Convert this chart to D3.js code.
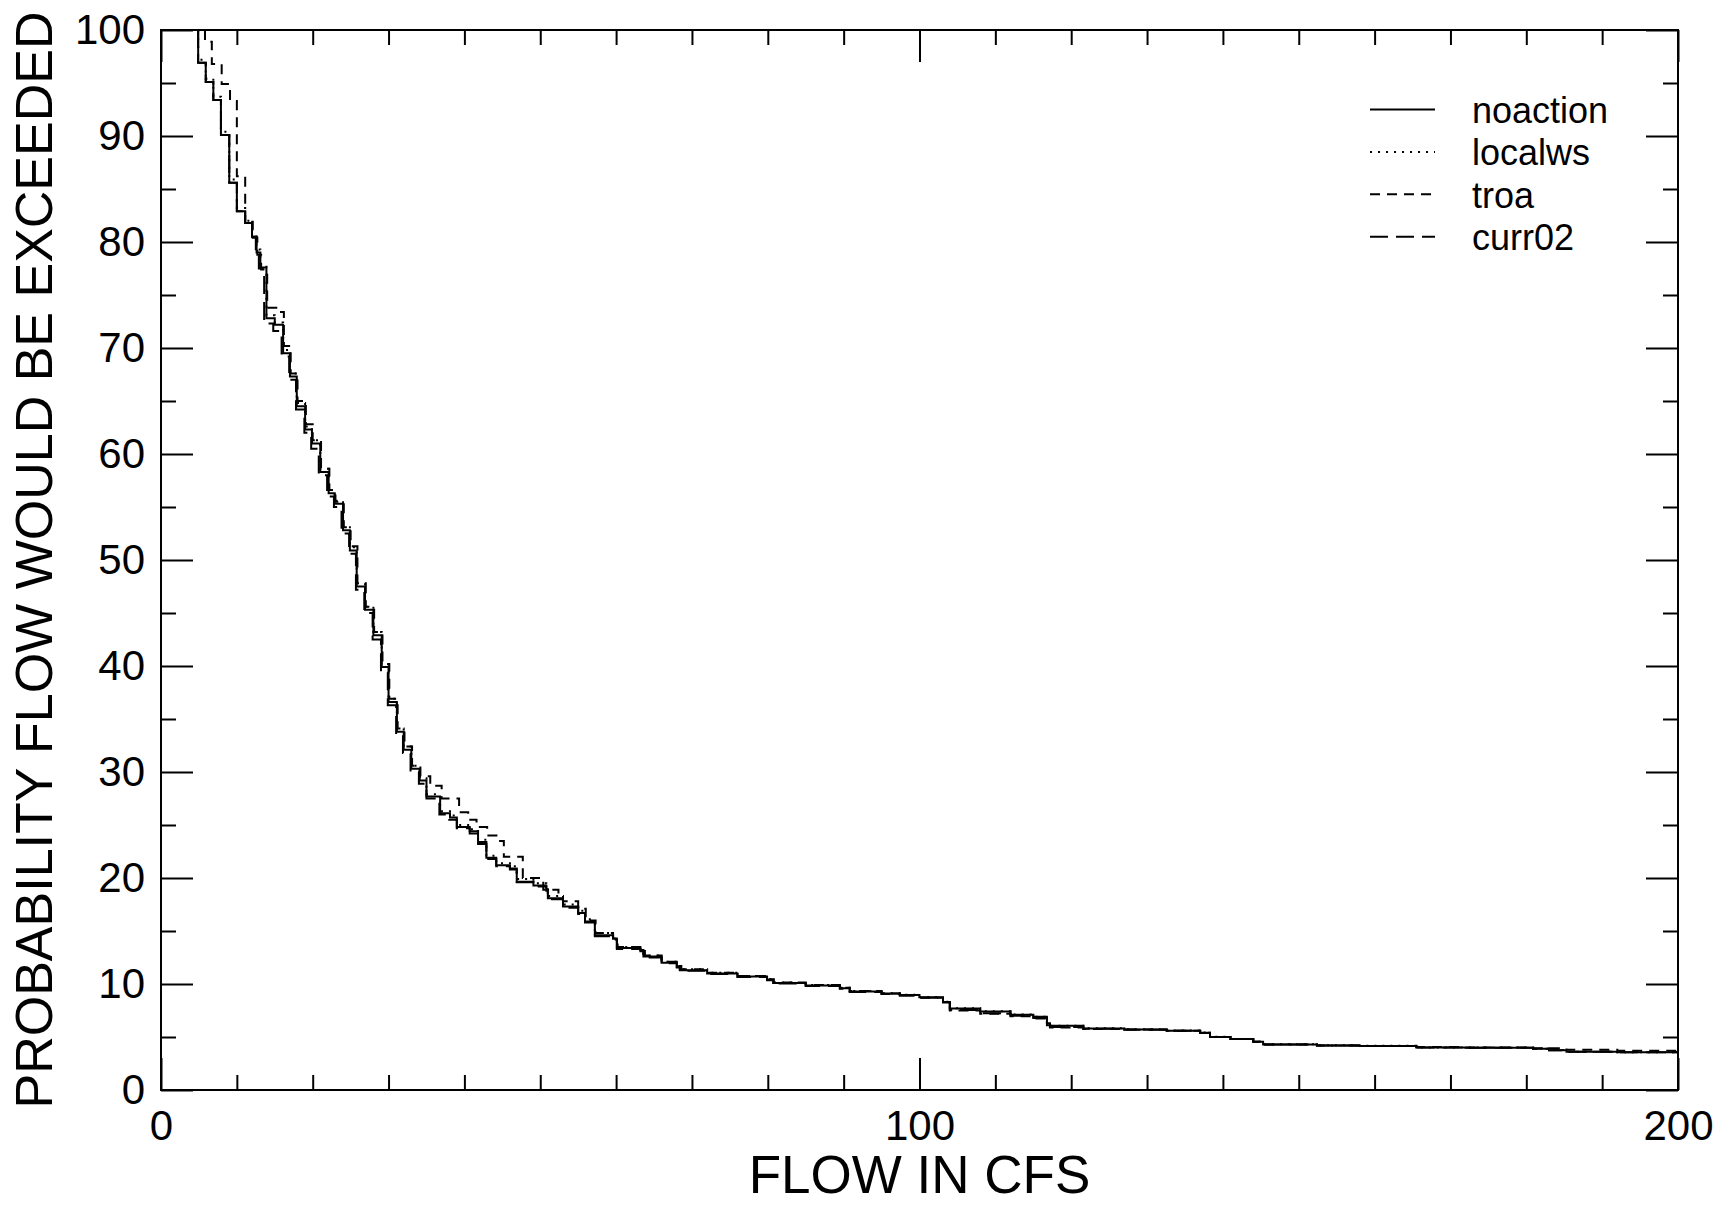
<!DOCTYPE html>
<html>
<head>
<meta charset="utf-8">
<script src="https://cdn.jsdelivr.net/npm/d3@7"></script>
<style>
  html, body { margin: 0; padding: 0; background: #fff; }
  svg { display: block; font-family: "Liberation Sans", Arial, Helvetica, sans-serif; }
</style>
</head>
<body>
<svg id="chart" width="1734" height="1206"></svg>
<script>
// ---------------- DATA ----------------
const seriesNames = ["noaction", "localws", "troa", "curr02"];
const xTitle = "FLOW IN CFS";
const yTitle = "PROBABILITY FLOW WOULD BE EXCEEDED";
const xMajorTicks = [0, 100, 200];
const yMajorTicks = [0, 10, 20, 30, 40, 50, 60, 70, 80, 90, 100];

// [flow (cfs), exceedance probability (%)]
const noaction = [
  [4.9,100],[4.9,96.9],[5.9,95.1],[6.9,93.4],[7.9,90.1],[9.0,85.6],[10.0,82.9],[11.1,81.8],
  [12.0,80.5],[12.6,79.0],[13.1,77.6],[13.9,72.8],[15.0,72.2],[16.1,69.5],[17.0,67.3],[17.9,64.5],
  [19.0,62.3],[19.9,61.0],[21.0,58.3],[22.1,56.3],[22.9,55.3],[24.0,52.8],[24.9,50.9],[25.8,47.5],
  [26.9,45.3],[28.0,42.9],[29.1,39.9],[30.0,36.6],[31.1,33.8],[32.0,32.1],[33.0,30.3],[34.1,29.2],
  [35.0,27.7],[36.8,26.1],[38.1,25.7],[39.0,24.8],[40.7,24.4],[41.8,23.4],[42.9,21.9],[44.2,21.2],
  [46.0,20.9],[46.9,19.65],[49.1,19.3],[50.8,18.9],[51.0,18.1],[53.0,17.3],[55.0,16.7],[55.9,15.9],
  [57.2,14.6],[59.6,14.3],[60.1,13.4],[63.2,13.2],[63.6,12.6],[66.0,12.0],[68.0,11.6],[68.4,11.3],
  [72,11.0],[76,10.7],[79.9,10.4],[80.7,10.1],[85,9.85],[89.5,9.6],[90.8,9.3],[95,9.1],[97.4,8.96],
  [100,8.75],[103.1,8.3],[104.0,7.7],[108.0,7.4],[112,7.1],[115.0,6.9],[116.8,6.3],[117.2,6.05],
  [121.6,5.8],[127,5.7],[132.6,5.6],[137,5.4],[138.3,5.0],[141,4.8],[144,4.55],[145.3,4.3],
  [152.4,4.2],[158,4.15],[165.5,4.0],[172,3.98],[180.9,3.9],[183,3.75],[185.3,3.6],[192,3.55],[200,3.5]
];
const localws = [
  [4.9,100],[4.9,97.2],[5.9,95.4],[6.9,93.7],[7.9,90.4],[9.0,85.9],[10.0,83.2],[11.1,82.0],
  [12.0,80.7],[12.6,79.3],[13.1,77.9],[13.9,73.1],[15.0,72.4],[16.1,69.8],[17.0,67.6],[17.9,64.8],
  [19.0,62.6],[19.9,61.3],[21.0,58.6],[22.1,56.6],[22.9,55.6],[24.0,53.1],[24.9,51.2],[25.8,47.8],
  [26.9,45.6],[28.0,43.2],[29.1,40.2],[30.0,36.9],[31.1,34.1],[32.0,32.4],[33.0,30.6],[34.1,29.4],
  [35.0,27.9],[36.8,26.3],[38.1,25.9],[39.0,25.0],[40.7,24.6],[41.8,23.6],[42.9,22.1],[44.2,21.4],
  [46.0,21.1],[46.9,19.9],[49.1,19.5],[50.8,19.1],[51.0,18.3],[53.0,17.5],[55.0,16.9],[55.9,16.1],
  [57.2,14.8],[59.6,14.4],[60.1,13.5],[63.2,13.3],[63.6,12.7],[66.0,12.1],[68.0,11.7],[68.4,11.4],
  [72,11.05],[76,10.75],[79.9,10.45],[80.7,10.15],[85,9.9],[89.5,9.65],[90.8,9.35],[95,9.12],[97.4,8.98],
  [100,8.77],[103.1,8.32],[104.0,7.72],[108.0,7.42],[112,7.12],[115.0,6.92],[116.8,6.32],[117.2,6.07],
  [121.6,5.82],[127,5.72],[132.6,5.62],[137,5.42],[138.3,5.02],[141,4.82],[144,4.57],[145.3,4.32],
  [152.4,4.22],[158,4.17],[165.5,4.02],[172,4.0],[180.9,3.92],[183,3.77],[185.3,3.62],[192,3.57],[200,3.52]
];
const troa = [
  [5.8,100],[5.8,98.9],[6.7,96.8],[8.0,94.9],[9.1,93.3],[10.0,86.2],[11.1,81.9],[12.1,80.4],
  [12.7,78.8],[13.2,77.4],[14.0,73.8],[15.6,73.4],[16.2,70.2],[17.1,67.6],[18.0,65.0],[19.1,62.8],
  [20.0,61.3],[21.1,58.6],[22.2,56.6],[23.0,55.5],[24.1,53.1],[25.0,51.3],[25.9,47.8],[27.0,45.6],
  [28.1,43.2],[29.2,40.2],[30.1,36.9],[31.2,34.1],[32.1,32.4],[33.1,30.6],[34.2,29.6],[35.5,28.7],
  [37.0,27.5],[39.3,26.2],[40.5,25.5],[41.6,24.8],[43.0,24.0],[44.5,23.5],[45.2,22.0],[47.7,20.0],
  [50.4,18.9],[52.4,18.3],[53.0,17.8],[55.0,17.1],[56.0,16.0],[57.3,14.8],[59.6,14.3],[60.2,13.5],
  [63.2,13.3],[63.8,12.7],[66,12.1],[68,11.7],[68.6,11.4],[72,11.05],[76,10.75],[79.9,10.45],
  [80.8,10.15],[85,9.9],[89.5,9.65],[90.8,9.35],[95,9.1],[97.4,8.96],[100,8.7],[103.1,8.2],
  [104.0,7.5],[108.0,7.2],[112,6.95],[115,6.75],[116.8,6.1],[117.2,5.9],[121.6,5.75],[127,5.7],
  [132.6,5.6],[137,5.4],[138.3,5.0],[141,4.8],[144,4.55],[145.3,4.3],[152.4,4.2],[158,4.15],
  [165.5,4.05],[172,4.0],[180.9,3.95],[185.3,3.8],[192,3.7],[200,3.55]
];
const curr02 = [
  [4.9,100],[4.9,96.9],[5.9,95.1],[6.9,93.4],[7.9,90.1],[9.0,85.6],[10.0,82.9],[11.1,81.8],
  [12.0,80.5],[12.5,79.0],[12.9,77.5],[13.6,72.3],[14.8,71.6],[15.9,69.2],[16.9,67.0],[17.8,64.2],
  [18.9,62.0],[19.8,60.5],[20.8,58.0],[21.9,56.0],[22.8,55.0],[23.8,52.5],[24.8,50.6],[25.7,47.2],
  [26.8,45.0],[27.9,42.5],[29.0,39.6],[29.9,36.3],[31.0,33.5],[31.9,31.8],[32.9,30.0],[34.0,28.9],
  [35.0,27.5],[36.7,26.0],[38.0,25.5],[39.0,24.7],[40.7,24.2],[41.8,23.2],[42.9,21.8],[44.2,21.1],
  [46.0,20.8],[46.9,19.6],[49.1,19.2],[50.8,18.8],[51.0,18.0],[53.0,17.2],[55.0,16.6],[55.9,15.8],
  [57.2,14.5],[59.6,14.2],[60.1,13.3],[63.2,13.1],[63.6,12.5],[66,11.95],[68,11.55],[68.4,11.25],
  [72,10.95],[76,10.65],[79.9,10.35],[80.7,10.05],[85,9.8],[89.5,9.55],[90.8,9.25],[95,9.05],
  [97.4,8.9],[100,8.7],[103.1,8.25],[104.0,7.55],[108.0,7.25],[112,7.0],[115,6.8],[116.8,6.2],
  [117.2,5.95],[121.6,5.78],[127,5.68],[132.6,5.58],[137,5.38],[138.3,5.0],[141,4.8],[144,4.55],
  [145.3,4.3],[152.4,4.2],[158,4.15],[165.5,4.0],[172,3.98],[180.9,3.9],[183,3.75],[185.3,3.62],
  [192,3.56],[200,3.5]
];

// ---------------- CHART ----------------
const svg = d3.select("#chart");
const L = 161, R = 1678, T = 30, B = 1090;
const x = d3.scaleLinear().domain([0, 200]).range([L, R]);
const y = d3.scaleLinear().domain([0, 100]).range([B, T]);

const seriesData = { noaction, localws, troa, curr02 };
const dashes = { noaction: null, localws: "2,6", troa: "10,7", curr02: "18,8" };

svg.append("defs").append("clipPath").attr("id", "plotclip")
  .append("rect").attr("x", L).attr("y", T).attr("width", R - L).attr("height", B - T);

const line = d3.line().x(d => x(d[0])).y(d => y(d[1])).curve(d3.curveStepAfter);

const drawOrder = ["curr02", "troa", "localws", "noaction"];
const g = svg.append("g").attr("clip-path", "url(#plotclip)");
drawOrder.forEach(name => {
  g.append("path")
    .datum(seriesData[name])
    .attr("d", line)
    .attr("fill", "none")
    .attr("stroke", "#000")
    .attr("stroke-width", 2)
    .attr("stroke-dasharray", dashes[name]);
});

// Axes (ticks inward on all four sides)
const xMinor = d3.range(0, 201, 10).filter(v => !xMajorTicks.includes(v));
const yMinor = d3.range(5, 100, 10);
const fontTick = 42;

function styleAxis(sel) {
  sel.select(".domain").remove();
  sel.selectAll("line").attr("stroke", "#000").attr("stroke-width", 2);
  sel.selectAll("text").attr("fill", "#000").attr("font-size", fontTick)
     .attr("font-family", "'Liberation Sans', Arial, Helvetica, sans-serif");
}

// bottom
svg.append("g").attr("transform", `translate(0,${B})`)
  .call(d3.axisBottom(x).tickValues(xMajorTicks).tickSizeInner(-32).tickSizeOuter(0)
        .tickPadding(20).tickFormat(d3.format("d")))
  .call(styleAxis);
svg.append("g").attr("transform", `translate(0,${B})`)
  .call(d3.axisBottom(x).tickValues(xMinor).tickSizeInner(-15).tickSizeOuter(0).tickFormat(""))
  .call(styleAxis);
// top
svg.append("g").attr("transform", `translate(0,${T})`)
  .call(d3.axisTop(x).tickValues(xMajorTicks).tickSizeInner(-32).tickSizeOuter(0).tickFormat(""))
  .call(styleAxis);
svg.append("g").attr("transform", `translate(0,${T})`)
  .call(d3.axisTop(x).tickValues(xMinor).tickSizeInner(-15).tickSizeOuter(0).tickFormat(""))
  .call(styleAxis);
// left
svg.append("g").attr("transform", `translate(${L},0)`)
  .call(d3.axisLeft(y).tickValues(yMajorTicks).tickSizeInner(-32).tickSizeOuter(0)
        .tickPadding(16).tickFormat(d3.format("d")))
  .call(styleAxis);
svg.append("g").attr("transform", `translate(${L},0)`)
  .call(d3.axisLeft(y).tickValues(yMinor).tickSizeInner(-15).tickSizeOuter(0).tickFormat(""))
  .call(styleAxis);
// right
svg.append("g").attr("transform", `translate(${R},0)`)
  .call(d3.axisRight(y).tickValues(yMajorTicks).tickSizeInner(-32).tickSizeOuter(0).tickFormat(""))
  .call(styleAxis);
svg.append("g").attr("transform", `translate(${R},0)`)
  .call(d3.axisRight(y).tickValues(yMinor).tickSizeInner(-15).tickSizeOuter(0).tickFormat(""))
  .call(styleAxis);

// frame
svg.append("rect").attr("x", L).attr("y", T).attr("width", R - L).attr("height", B - T)
  .attr("fill", "none").attr("stroke", "#000").attr("stroke-width", 2);

// axis titles
svg.append("text").attr("x", (L + R) / 2).attr("y", 1193)
  .attr("text-anchor", "middle").attr("font-size", 53).attr("fill", "#000").text(xTitle);
svg.append("text").attr("transform", `translate(52,${(T + B) / 2}) rotate(-90)`)
  .attr("text-anchor", "middle").attr("font-size", 52).attr("fill", "#000").text(yTitle);

// legend
const legend = svg.append("g");
seriesNames.forEach((name, i) => {
  const ly = 109.5 + i * 42.4;
  legend.append("line").attr("x1", 1370).attr("x2", 1435).attr("y1", ly).attr("y2", ly)
    .attr("stroke", "#000").attr("stroke-width", 2).attr("stroke-dasharray", dashes[name]);
  legend.append("text").attr("x", 1472).attr("y", ly + 13.5)
    .attr("font-size", 36).attr("fill", "#000").text(name);
});
</script>
</body>
</html>
